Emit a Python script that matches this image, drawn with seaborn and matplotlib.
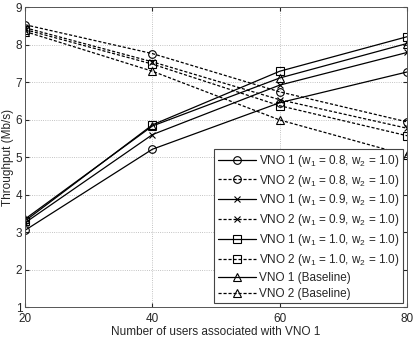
import numpy as np
import pandas as pd
import seaborn as sns
import matplotlib
matplotlib.use("Agg")
import matplotlib.pyplot as plt

# dados
users = [20, 40, 60, 80]

vno1_w08 = [3.05, 5.21, 6.45, 7.27]
vno2_w08 = [8.53, 7.76, 6.74, 5.94]
vno1_w09 = [3.25, 5.60, 6.92, 7.79]
vno2_w09 = [8.45, 7.54, 6.53, 5.77]
vno1_w10 = [3.30, 5.86, 7.29, 8.21]
vno2_w10 = [8.40, 7.48, 6.37, 5.57]
vno1_base = [3.35, 5.83, 7.11, 8.03]
vno2_base = [8.35, 7.29, 5.99, 5.05]

labels = [
    "VNO 1 (w$\\mathregular{_1}$ = 0.8, w$\\mathregular{_2}$ = 1.0)",
    "VNO 2 (w$\\mathregular{_1}$ = 0.8, w$\\mathregular{_2}$ = 1.0)",
    "VNO 1 (w$\\mathregular{_1}$ = 0.9, w$\\mathregular{_2}$ = 1.0)",
    "VNO 2 (w$\\mathregular{_1}$ = 0.9, w$\\mathregular{_2}$ = 1.0)",
    "VNO 1 (w$\\mathregular{_1}$ = 1.0, w$\\mathregular{_2}$ = 1.0)",
    "VNO 2 (w$\\mathregular{_1}$ = 1.0, w$\\mathregular{_2}$ = 1.0)",
    "VNO 1 (Baseline)",
    "VNO 2 (Baseline)",
]
series = [vno1_w08, vno2_w08, vno1_w09, vno2_w09, vno1_w10, vno2_w10, vno1_base, vno2_base]
markers = ["o", "o", "x", "x", "s", "s", "^", "^"]
styles = ["-", "--", "-", "--", "-", "--", "-", "--"]

sns.set_style("ticks")
plt.rcParams["font.family"] = ["Liberation Sans", "DejaVu Sans"]
plt.rcParams["font.size"] = 8.5

fig = plt.figure(figsize=(4.2, 3.4), dpi=100)
ax = fig.add_axes([0.06, 0.097, 0.909, 0.882])

for y, lab, m, ls in zip(series, labels, markers, styles):
    df = pd.DataFrame({"users": users, "thr": y})
    sns.lineplot(data=df, x="users", y="thr", ax=ax, color="black", lw=0.9,
                 linestyle=ls, marker=m, markersize=5.5 if m != "x" else 4.5,
                 markerfacecolor="none", markeredgecolor="black",
                 markeredgewidth=0.8, label=lab)

for line in ax.get_lines():
    if line.get_linestyle() == "--":
        line.set_dashes((2.5, 1.5))

ax.set_xlim(20, 80)
ax.set_ylim(1, 9)
ax.set_xticks([20, 40, 60, 80])
ax.set_yticks(range(1, 10))
ax.set_xlabel("Number of users associated with VNO 1", labelpad=0.5)
ax.set_ylabel("Throughput (Mb/s)", labelpad=1)
ax.grid(True, linestyle=":", color="#b0b0b0", lw=0.6)
ax.tick_params(direction="in", top=True, right=True, length=3)
ax.tick_params(axis="x", pad=4.5)
ax.tick_params(axis="y", pad=2)
for s in ax.spines.values():
    s.set_linewidth(0.7)
    s.set_color("#555555")

leg = ax.legend(loc="lower right", handlelength=3.2, handletextpad=0.3,
                labelspacing=0.33, borderaxespad=0.3, fancybox=False,
                framealpha=1, edgecolor="#444444", borderpad=0.3)
leg.get_frame().set_linewidth(0.8)
for h in leg.get_lines():
    if h.get_linestyle() == "--":
        h.set_dashes((2.5, 1.5))

fig.savefig("out.png", dpi=100)
